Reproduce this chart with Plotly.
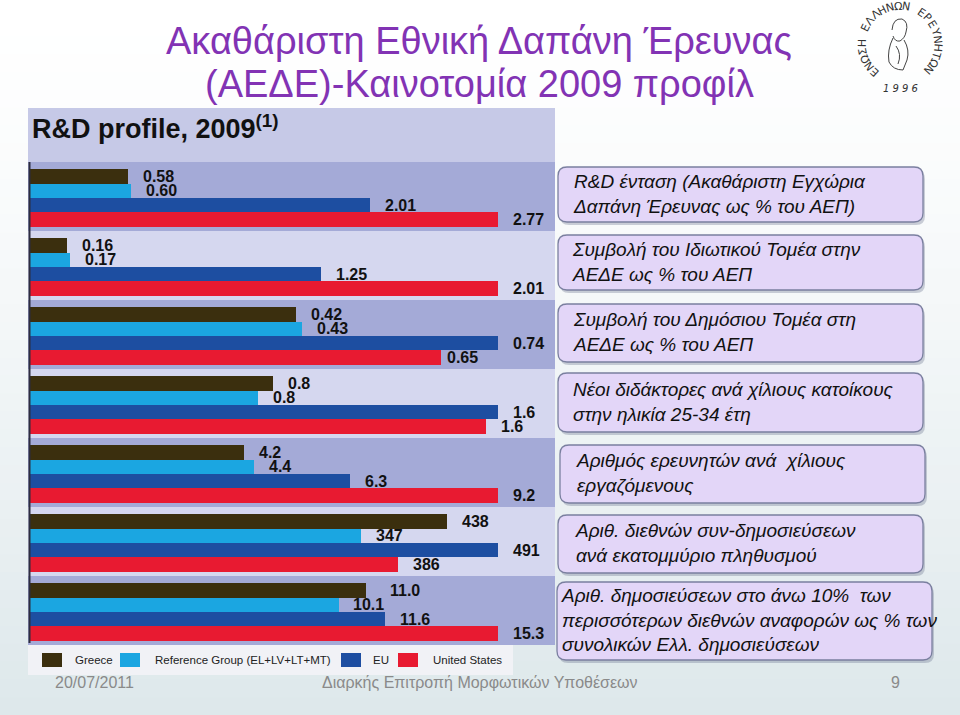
import math
import plotly.graph_objects as go

W, H = 960, 715

# ---------------- data ----------------
title_line1 = "Ακαθάριστη Εθνική Δαπάνη Έρευνας"
title_line2 = "(ΑΕΔΕ)-Καινοτομία 2009 προφίλ"
panel_title = "R&amp;D profile, 2009<sup>(1)</sup>"

indicators = [
    "R&amp;D ένταση (Ακαθάριστη Εγχώρια<br>Δαπάνη Έρευνας ως % του ΑΕΠ)",
    "Συμβολή του Ιδιωτικού Τομέα στην<br>ΑΕΔΕ ως % του ΑΕΠ",
    "Συμβολή του Δημόσιου Τομέα στη<br>ΑΕΔΕ ως % του ΑΕΠ",
    "Νέοι διδάκτορες ανά χίλιους κατοίκους<br>στην ηλικία 25-34 έτη",
    "Αριθμός ερευνητών ανά  χίλιους<br>εργαζόμενους",
    "Αριθ. διεθνών συν-δημοσιεύσεων<br>ανά εκατομμύριο πληθυσμού",
    "Αριθ. δημοσιεύσεων στο άνω 10%  των<br>περισσότερων διεθνών αναφορών ως % των<br>συνολικών Ελλ. δημοσιεύσεων",
]

series_names = ["Greece", "Reference Group (EL+LV+LT+MT)", "EU", "United States"]
greece = [0.58, 0.16, 0.42, 0.83, 4.2, 438, 11.0]
reference_group = [0.60, 0.17, 0.43, 0.78, 4.4, 347, 10.1]
eu = [2.01, 1.25, 0.74, 1.60, 6.3, 491, 11.6]
united_states = [2.77, 2.01, 0.65, 1.56, 9.2, 386, 15.3]
label_formats = [".2f", ".2f", ".2f", ".1f", ".1f", ".0f", ".1f"]

footer_date = "20/07/2011"
footer_center = "Διαρκής Επιτροπή Μορφωτικών Υποθέσεων"
footer_page = "9"
logo_text = "ΕΝΩΣΗ ΕΛΛΗΝΩΝ ΕΡΕΥΝΗΤΩΝ"
logo_year = "1 9 9 6"

# ---------------- style / geometry ----------------
series_colors = ["#3b2f0e", "#1ba6e1", "#1d4ea1", "#e81a31"]
band_colors = ["#a4aad7", "#d5d7ef"]
header_color = "#c6c9e7"
title_color = "#8233b4"
box_fill = "#e3d6f8"
box_line = "#7a7f9f"

PANEL_X0, PANEL_X1 = 28, 555
PANEL_TOP = 108
BAR_X0 = 30
BAR_FULL = 468
BAND_TOP = 162
BAND_H = 69.0

label_shift = {(2, 3): 4, (6, 0): 22, (6, 1): 12}

boxes = [
    (558, 167, 923, 222),
    (558, 235, 923, 290),
    (558, 304, 923, 362),
    (558, 373, 923, 432),
    (560, 445, 925, 503),
    (558, 515, 923, 573),
    (557, 582, 932, 660),
]
box_text_x = [571, 570, 571, 571, 574, 573, 559]


def px(x):
    return x / W


def py(y):
    return 1 - y / H


def rrect(x0, y0, x1, y1, r):
    P = lambda x, y: f"{px(x):.5f},{py(y):.5f}"
    return (
        f"M {P(x0 + r, y0)} L {P(x1 - r, y0)} Q {P(x1, y0)} {P(x1, y0 + r)} "
        f"L {P(x1, y1 - r)} Q {P(x1, y1)} {P(x1 - r, y1)} "
        f"L {P(x0 + r, y1)} Q {P(x0, y1)} {P(x0, y1 - r)} "
        f"L {P(x0, y0 + r)} Q {P(x0, y0)} {P(x0 + r, y0)} Z"
    )


fig = go.Figure()
shapes = []
annotations = []
layout_axes = {}

# slide background gradient
n_strips = 40
for i in range(n_strips):
    t = i / (n_strips - 1)
    tt = t ** 1.3
    r = round(255 - (255 - 222) * tt)
    g = round(255 - (255 - 232) * tt)
    b = round(255 - (255 - 235) * tt)
    shapes.append(dict(type="rect", xref="paper", yref="paper", layer="below",
                       x0=0, x1=1, y0=py(H * (i + 1) / n_strips + 1), y1=py(H * i / n_strips),
                       fillcolor=f"rgb({r},{g},{b})", line_width=0))

# panel header band
shapes.append(dict(type="rect", xref="paper", yref="paper", layer="below",
                   x0=px(PANEL_X0), x1=px(PANEL_X1), y0=py(BAND_TOP), y1=py(PANEL_TOP),
                   fillcolor=header_color, line_width=0))

groups = list(zip(greece, reference_group, eu, united_states))
for gi, vals in enumerate(groups):
    top = BAND_TOP + gi * BAND_H
    bot = top + BAND_H
    shapes.append(dict(type="rect", xref="paper", yref="paper", layer="below",
                       x0=px(PANEL_X0), x1=px(PANEL_X1), y0=py(bot), y1=py(top),
                       fillcolor=band_colors[gi % 2], line_width=0))
    n = "" if gi == 0 else str(gi + 1)
    gmax = max(vals)
    layout_axes[f"xaxis{n}"] = dict(domain=[px(BAR_X0), px(PANEL_X1)],
                                    range=[0, gmax * (PANEL_X1 - BAR_X0) / BAR_FULL],
                                    visible=False, fixedrange=True, anchor=f"y{n}")
    layout_axes[f"yaxis{n}"] = dict(domain=[py(bot), py(top)], range=[3.8, -1.0],
                                    visible=False, fixedrange=True, anchor=f"x{n}")
    fig.add_trace(go.Bar(
        x=list(vals), y=[0, 1, 2, 3], orientation="h",
        width=[1, 1, 1, 1], marker=dict(color=series_colors, line_width=0),
        xaxis=f"x{n}", yaxis=f"y{n}", showlegend=False, hoverinfo="skip"))
    for k, v in enumerate(vals):
        annotations.append(dict(
            xref=f"x{n}", yref=f"y{n}", x=v, y=k, xanchor="left", yanchor="middle",
            xshift=label_shift.get((gi, k), 13), showarrow=False,
            text=format(v, label_formats[gi]),
            font=dict(family="Liberation Sans, Arial", size=16, color="#111111", weight="bold")))

PANEL_BOTTOM = BAND_TOP + 7 * BAND_H

# left dark axis line
shapes.append(dict(type="line", xref="paper", yref="paper", layer="above",
                   x0=px(29.5), x1=px(29.5), y0=py(PANEL_BOTTOM - 2), y1=py(BAND_TOP),
                   line=dict(color="#2d2d40", width=2)))

# legend strip
legend_y = 660
shapes.append(dict(type="rect", xref="paper", yref="paper", layer="below",
                   x0=px(PANEL_X0), x1=px(513), y0=py(675), y1=py(PANEL_BOTTOM),
                   fillcolor="#f1f2f6", line_width=0))
legend_sq_x = [42, 120, 341, 398]
legend_txt_x = [73, 153, 371, 431]
for name, col, sx, tx in zip(series_names, series_colors, legend_sq_x, legend_txt_x):
    shapes.append(dict(type="rect", xref="paper", yref="paper", layer="above",
                       x0=px(sx), x1=px(sx + 20), y0=py(legend_y + 7), y1=py(legend_y - 7),
                       fillcolor=col, line_width=0))
    annotations.append(dict(xref="paper", yref="paper", x=px(tx), y=py(legend_y),
                            xanchor="left", yanchor="middle", showarrow=False, text=name,
                            font=dict(family="Liberation Sans, Arial", size=11.5,
                                      color="#222222")))

# panel title
annotations.append(dict(xref="paper", yref="paper", x=px(30), y=py(127), xanchor="left",
                        yanchor="middle", showarrow=False, text=panel_title,
                        font=dict(family="Liberation Sans, Arial", size=27, color="#111111",
                                  weight="bold")))

# indicator boxes
for (x0, y0, x1, y1), txt, tx in zip(boxes, indicators, box_text_x):
    shapes.append(dict(type="path", xref="paper", yref="paper", layer="above",
                       path=rrect(x0 + 2, y0 + 3, x1 + 2, y1 + 3, 9),
                       fillcolor="rgba(90,100,130,0.30)", line_width=0))
    shapes.append(dict(type="path", xref="paper", yref="paper", layer="above",
                       path=rrect(x0, y0, x1, y1, 9),
                       fillcolor=box_fill, line=dict(color=box_line, width=1.3)))
    annotations.append(dict(xref="paper", yref="paper", x=px(tx), y=py((y0 + y1) / 2 - 1),
                            xanchor="left", yanchor="middle", align="left", showarrow=False,
                            text=f"<i>{txt}</i>",
                            font=dict(family="Liberation Sans, Arial", size=19, color="#111111")))

# slide title
for txt, yc in [(title_line1, 41), (title_line2, 84)]:
    annotations.append(dict(xref="paper", yref="paper", x=px(479), y=py(yc), xanchor="center",
                            yanchor="middle", showarrow=False, text=txt,
                            font=dict(family="Liberation Sans, Arial", size=38, color=title_color)))

# footer
for txt, xc, anchor in [(footer_date, 53, "left"), (footer_center, 480, "center"),
                        (footer_page, 895, "center")]:
    annotations.append(dict(xref="paper", yref="paper", x=px(xc), y=py(682), xanchor=anchor,
                            yanchor="middle", showarrow=False, text=txt,
                            font=dict(family="Liberation Sans, Arial", size=16, color="#8a8a8a")))

# logo: text around an arc
cx, cy, rad = 900, 44, 38
start, end = 228, -42
nchar = len(logo_text)
for i, ch in enumerate(logo_text):
    if ch == " ":
        continue
    th = start + (end - start) * i / (nchar - 1)
    x = cx + rad * math.cos(math.radians(th))
    y = cy - rad * math.sin(math.radians(th))
    annotations.append(dict(xref="paper", yref="paper", x=px(x), y=py(y), xanchor="center",
                            yanchor="middle", showarrow=False, text=ch, textangle=90 - th,
                            font=dict(family="DejaVu Sans", size=11, color="#333333")))
annotations.append(dict(xref="paper", yref="paper", x=px(cx), y=py(89), xanchor="center",
                        yanchor="middle", showarrow=False, text=f"<i>{logo_year}</i>",
                        font=dict(family="DejaVu Sans", size=10, color="#333333")))
# simple sketch of the figure in the seal
P = lambda x, y: f"{px(x):.5f},{py(y):.5f}"
shapes.append(dict(type="path", xref="paper", yref="paper", layer="above",
                   path=f"M {P(892,30)} Q {P(893,18)} {P(902,19)} Q {P(909,22)} {P(906,32)} "
                        f"Q {P(905,38)} {P(900,41)} Q {P(895,42)} {P(893,36)}",
                   line=dict(color="#444444", width=1)))
shapes.append(dict(type="path", xref="paper", yref="paper", layer="above",
                   path=f"M {P(893,38)} Q {P(887,50)} {P(889,62)} Q {P(893,70)} {P(903,70)} "
                        f"M {P(904,40)} Q {P(910,50)} {P(907,60)} L {P(903,70)} "
                        f"M {P(896,46)} Q {P(902,54)} {P(898,64)}",
                   line=dict(color="#444444", width=1)))

fig.update_layout(
    width=W, height=H, margin=dict(l=0, r=0, t=0, b=0),
    paper_bgcolor="white", plot_bgcolor="rgba(0,0,0,0)",
    showlegend=False, bargap=0,
    shapes=shapes, annotations=annotations,
    **layout_axes,
)

fig.write_html("out.html", config={"displayModeBar": False, "staticPlot": True},
               post_script="document.body.style.margin='0px';")
